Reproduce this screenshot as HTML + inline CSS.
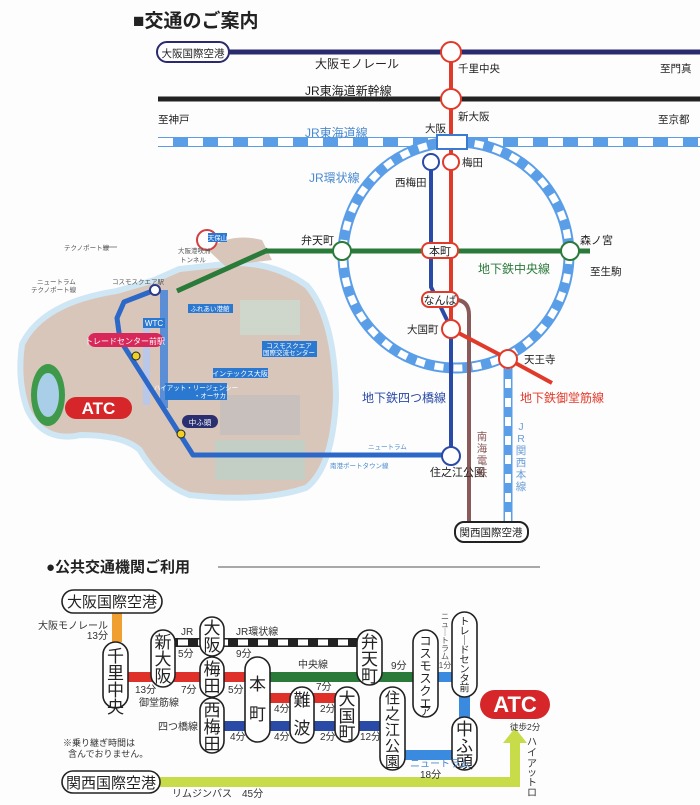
<!DOCTYPE html>
<html><head><meta charset="utf-8"><style>
html,body{margin:0;padding:0;background:#fff;}
svg{display:block;font-family:"Liberation Sans","Noto Sans CJK JP",sans-serif;}
</style></head><body>
<svg width="700" height="805" viewBox="0 0 700 805" xmlns="http://www.w3.org/2000/svg">
<rect width="700" height="805" fill="#fdfdfd"/>
<text x="133" y="27" font-size="19" font-weight="bold" fill="#222">■交通のご案内</text>

<!-- Island -->
<path d="M25,345 Q45,305 117,294 L155,283 L180,272 L235,266 Q275,266 305,288 Q332,320 333,398 Q330,465 305,485 Q260,500 190,492 Q162,482 142,448 Q125,432 80,432 Q45,440 30,408 Q20,380 25,345 Z" fill="#cfe6f4" stroke="#cfe6f4" stroke-width="12" stroke-linejoin="round"/>
<path d="M25,345 Q45,305 117,294 L155,283 L180,272 L235,266 Q275,266 305,288 Q332,320 333,398 Q330,465 305,485 Q260,500 190,492 Q162,482 142,448 Q125,432 80,432 Q45,440 30,408 Q20,380 25,345 Z" fill="#d9c6ba"/>
<path d="M208,250 Q230,232 262,240 L272,260 L225,266 Z" fill="#d9c6ba"/>
<ellipse cx="48" cy="395" rx="17" ry="31" fill="#3e9a4a"/>
<ellipse cx="48" cy="395" rx="11" ry="22" fill="#a9cfe8"/>
<g fill="#c8c0bc">
<rect x="220" y="395" width="80" height="40"/>
<rect x="215" y="440" width="90" height="40" fill="#c3cfc5"/>
<rect x="240" y="300" width="60" height="35" fill="#cfd6cc"/>
</g>
<rect x="160" y="290" width="8" height="118" fill="#5c8ed6"/>
<rect x="143" y="320" width="7" height="85" fill="#b9c7e8"/>
<circle cx="207" cy="240" r="10" fill="none" stroke="#d04040" stroke-width="2"/>
<polyline points="177,291 268,250" fill="none" stroke="#2a7a3a" stroke-width="5"/>
<polyline points="155,290 124,302 117,318 120,340 181,436 193,455 450,455" fill="none" stroke="#2b68c8" stroke-width="5" stroke-linejoin="round"/>
<circle cx="155" cy="290" r="5" fill="#fff" stroke="#2b3a8a" stroke-width="2"/>
<circle cx="136" cy="356" r="4" fill="#f0d020" stroke="#222" stroke-width="1"/>
<circle cx="181" cy="434" r="4" fill="#f0d020" stroke="#222" stroke-width="1"/>
<rect x="65" y="397" width="67" height="22" rx="11" fill="#d7262a"/>
<text x="98.5" y="414" font-size="17" font-weight="bold" fill="#fff" text-anchor="middle">ATC</text>
<rect x="88" y="333" width="75" height="14" rx="7" fill="#d8285a"/>
<text x="125" y="344" font-size="8" fill="#fff" text-anchor="middle">トレードセンター前駅</text>
<rect x="143" y="318" width="22" height="10" fill="#2b78d0"/>
<text x="154" y="326" font-size="8" fill="#fff" text-anchor="middle">WTC</text>
<rect x="188" y="304" width="45" height="9" fill="#2b78d0"/>
<text x="210" y="311" font-size="6.5" fill="#fff" text-anchor="middle">ふれあい港館</text>
<rect x="262" y="341" width="55" height="16" fill="#2b78d0"/>
<text x="289" y="348" font-size="6.5" fill="#fff" text-anchor="middle">コスモスクエア</text>
<text x="289" y="355" font-size="6.5" fill="#fff" text-anchor="middle">国際交流センター</text>
<rect x="213" y="368" width="55" height="10" fill="#2b78d0"/>
<text x="240" y="376" font-size="7" fill="#fff" text-anchor="middle">インテックス大阪</text>
<rect x="165" y="383" width="62" height="17" fill="#2b78d0"/>
<text x="196" y="390" font-size="6.5" fill="#fff" text-anchor="middle">ハイアット・リージェンシー</text>
<text x="210" y="398" font-size="6.5" fill="#fff" text-anchor="middle">・オーサカ</text>
<rect x="182" y="415" width="36" height="13" rx="6.5" fill="#2a2f70"/>
<text x="200" y="425" font-size="7.5" fill="#fff" text-anchor="middle">中ふ頭</text>
<rect x="208" y="233" width="19" height="9" fill="#2b78d0"/>
<text x="217.5" y="240" font-size="6.5" fill="#fff" text-anchor="middle">天保山</text>
<g font-size="6.5" fill="#555">
<text x="64" y="250">テクノポート線</text>
<line x1="104" y1="247" x2="117" y2="247" stroke="#555" stroke-width="0.7"/>
<text x="178" y="253">大阪港咲洲</text>
<text x="180" y="262">トンネル</text>
<text x="37" y="284">ニュートラム</text>
<text x="31" y="292">テクノポート線</text>
<text x="112" y="284">コスモスクエア駅</text>
<text x="368" y="449" fill="#4a8ad0">ニュートラム</text>
<text x="330" y="468" fill="#4a8ad0">南港ポートタウン線</text>
</g>

<!-- Top lines -->
<line x1="228" y1="52" x2="700" y2="52" stroke="#2a2a6e" stroke-width="5"/>
<rect x="157" y="42" width="72" height="20" rx="10" fill="#fff" stroke="#2a2a6e" stroke-width="2"/>
<text x="193" y="57" font-size="10.5" fill="#222" text-anchor="middle">大阪国際空港</text>
<line x1="158" y1="99" x2="700" y2="99" stroke="#222" stroke-width="5"/>
<line x1="158" y1="142" x2="700" y2="142" stroke="#5b9ee8" stroke-width="10"/>
<line x1="158" y1="142" x2="700" y2="142" stroke="#fff" stroke-width="8" stroke-dasharray="15 15"/>
<circle cx="456" cy="255" r="113" fill="none" stroke="#5b9ee8" stroke-width="11"/>
<circle cx="456" cy="255" r="113" fill="none" stroke="#fff" stroke-width="7" stroke-dasharray="9 10"/>
<line x1="508" y1="360" x2="508" y2="522" stroke="#5b9ee8" stroke-width="9"/>
<line x1="508" y1="360" x2="508" y2="522" stroke="#fff" stroke-width="6" stroke-dasharray="9 10"/>
<line x1="266" y1="251" x2="590" y2="251" stroke="#2a7a3a" stroke-width="5"/>
<path d="M458,300 Q469,302 469,315 L469,522" fill="none" stroke="#8a5a5a" stroke-width="4"/>
<polyline points="431,170 431,287 447,320 451,332 451,455" fill="none" stroke="#2a4aa8" stroke-width="4"/>
<polyline points="451,52 451,329 508,359 552,383" fill="none" stroke="#e03a2a" stroke-width="4"/>
<g fill="#fff" stroke-width="2">
<circle cx="451" cy="52" r="10" stroke="#e03a2a"/>
<circle cx="451" cy="99" r="10" stroke="#e03a2a"/>
<circle cx="451" cy="162" r="8" stroke="#e03a2a"/>
<circle cx="431" cy="162" r="8" stroke="#2a4aa8"/>
<circle cx="342" cy="251" r="9" stroke="#2a7a3a"/>
<circle cx="570" cy="251" r="9" stroke="#2a7a3a"/>
<circle cx="451" cy="329" r="9" stroke="#e03a2a"/>
<circle cx="508" cy="359" r="9" stroke="#e03a2a"/>
<circle cx="451" cy="456" r="9" stroke="#2a4aa8"/>
<rect x="437" y="135" width="30" height="14" stroke="#3a7ad0"/>
<rect x="422" y="243" width="36" height="15" rx="7" stroke="#e03a2a"/>
<rect x="422" y="292" width="36" height="15" rx="7" stroke="#e03a2a"/>
<rect x="455" y="522" width="73" height="20" rx="9" stroke="#222"/>
</g>
<g font-size="11" fill="#222">
<text x="440" y="255" text-anchor="middle">本町</text>
<text x="440" y="304" text-anchor="middle">なんば</text>
<text x="491" y="536" text-anchor="middle" font-size="10.5">関西国際空港</text>
<text x="315" y="68" font-size="12">大阪モノレール</text>
<text x="458" y="72" font-size="10.5">千里中央</text>
<text x="660" y="72" font-size="10.5">至門真</text>
<text x="305" y="95" font-size="12">JR東海道新幹線</text>
<text x="458" y="120" font-size="10.5">新大阪</text>
<text x="158" y="123" font-size="10.5">至神戸</text>
<text x="658" y="123" font-size="10.5">至京都</text>
<text x="425" y="132" font-size="10.5">大阪</text>
<text x="305" y="137" font-size="12" fill="#4a8ad0">JR東海道線</text>
<text x="309" y="182" font-size="12" fill="#4a8ad0">JR環状線</text>
<text x="462" y="166" font-size="10.5">梅田</text>
<text x="395" y="186" font-size="10.5">西梅田</text>
<text x="301" y="244" font-size="11">弁天町</text>
<text x="580" y="244" font-size="11">森ノ宮</text>
<text x="590" y="275" font-size="10.5">至生駒</text>
<text x="478" y="273" font-size="12" fill="#2a7a3a">地下鉄中央線</text>
<text x="407" y="333" font-size="10.5">大国町</text>
<text x="524" y="363" font-size="10.5">天王寺</text>
<text x="362" y="402" font-size="12" fill="#2a4aa8">地下鉄四つ橋線</text>
<text x="520" y="402" font-size="12" fill="#e03a2a">地下鉄御堂筋線</text>
<text x="430" y="476" font-size="11">住之江公園</text>
</g>
<g font-size="10.5" fill="#8a5a5a" text-anchor="middle">
<text x="482" y="440">南</text><text x="482" y="452">海</text><text x="482" y="464">電</text><text x="482" y="476">鉄</text>
</g>
<g font-size="10.5" fill="#6a9ed8" text-anchor="middle">
<text x="521" y="430">J</text><text x="521" y="442">R</text><text x="521" y="454">関</text><text x="521" y="466">西</text><text x="521" y="478">本</text><text x="521" y="490">線</text>
</g>

<!-- Bottom section -->
<text x="46" y="572" font-size="15" font-weight="bold" fill="#222">●公共交通機関ご利用</text>
<line x1="218" y1="567" x2="540" y2="567" stroke="#555" stroke-width="1"/>
<rect x="112" y="612" width="10" height="30" fill="#f0a030"/>
<rect x="175" y="638" width="182" height="9" fill="#222"/>
<line x1="175" y1="642.5" x2="357" y2="642.5" stroke="#fff" stroke-width="6" stroke-dasharray="10 10" stroke-dashoffset="-3"/>
<rect x="127" y="672" width="120" height="10" fill="#e0302a"/>
<rect x="268" y="672" width="147" height="10" fill="#2a7a3a"/>
<rect x="436" y="672" width="18" height="10" fill="#3a8ae0"/>
<rect x="268" y="693" width="70" height="10" fill="#e0302a"/>
<rect x="222" y="721" width="160" height="10" fill="#2a4aa8"/>
<rect x="403" y="750" width="52" height="10" fill="#3a8ae0"/>
<rect x="459" y="695" width="11" height="24" fill="#3a8ae0"/>
<path d="M160,777 L510,777 L510,743 L503,743 L515,728 L527,743 L520,743 L520,787 L160,787 Z" fill="#c8dc4a"/>
<g fill="#fff" stroke="#222" stroke-width="1.6">
<rect x="62" y="590" width="100" height="23" rx="11.5"/>
<rect x="62" y="771" width="98" height="22" rx="11"/>
<rect x="103" y="642" width="25" height="66" rx="12.5"/>
<rect x="151" y="630" width="24" height="57" rx="12"/>
<rect x="200" y="617" width="24" height="39" rx="12"/>
<rect x="200" y="657" width="24" height="40" rx="12"/>
<rect x="200" y="698" width="24" height="55" rx="12"/>
<rect x="245" y="657" width="25" height="85" rx="12.5"/>
<rect x="290" y="687" width="24" height="56" rx="12"/>
<rect x="335" y="687" width="24" height="55" rx="12"/>
<rect x="357" y="630" width="25" height="55" rx="12.5"/>
<rect x="380" y="687" width="25" height="83" rx="12.5"/>
<rect x="413" y="630" width="25" height="87" rx="12.5"/>
<rect x="452" y="612" width="25" height="85" rx="12.5"/>
<rect x="452" y="717" width="25" height="53" rx="12.5"/>
</g>
<rect x="480" y="690" width="70" height="29" rx="14.5" fill="#d7262a"/>
<text x="515" y="712" font-size="22" font-weight="bold" fill="#fff" text-anchor="middle">ATC</text>
<g font-size="15" fill="#222" text-anchor="middle">
<text x="112" y="607">大阪国際空港</text>
<text x="111" y="788">関西国際空港</text>
</g>
<g font-size="17" fill="#222" text-anchor="middle">
<text x="115.5" y="662">千</text><text x="115.5" y="679">里</text><text x="115.5" y="696">中</text><text x="115.5" y="713">央</text>
<text x="163" y="648">新</text><text x="163" y="665">大</text><text x="163" y="682">阪</text>
<text x="212" y="634">大</text><text x="212" y="651">阪</text>
<text x="212" y="675">梅</text><text x="212" y="692">田</text>
<text x="212" y="716">西</text><text x="212" y="733">梅</text><text x="212" y="750">田</text>
<text x="257.5" y="690">本</text><text x="257.5" y="720">町</text>
<text x="302" y="706">難</text><text x="302" y="734">波</text>
<text x="347" y="705">大</text><text x="347" y="722">国</text><text x="347" y="739">町</text>
<text x="369.5" y="648">弁</text><text x="369.5" y="665">天</text><text x="369.5" y="682">町</text>
<text x="464.5" y="735">中</text><text x="464.5" y="752">ふ</text><text x="464.5" y="768">頭</text>
</g>
<g font-size="15" fill="#222" text-anchor="middle">
<text x="392.5" y="703">住</text><text x="392.5" y="719">之</text><text x="392.5" y="735">江</text><text x="392.5" y="751">公</text><text x="392.5" y="767">園</text>
</g>
<g font-size="12" fill="#222" text-anchor="middle">
<text x="425.5" y="645">コ</text><text x="425.5" y="657.5">ス</text><text x="425.5" y="670">モ</text><text x="425.5" y="682.5">ス</text><text x="425.5" y="695">ク</text><text x="425.5" y="707.5">エ</text><text x="425.5" y="714" font-size="0.1"> </text>
</g>
<g font-size="11" fill="#222" text-anchor="middle">
<text x="425.5" y="715">ア</text>
</g>
<g font-size="10" fill="#222" text-anchor="middle">
<text x="464.5" y="625">ト</text><text x="464.5" y="634.5">レ</text><text x="464.5" y="644">｜</text><text x="464.5" y="653.5">ド</text><text x="464.5" y="663">セ</text><text x="464.5" y="672.5">ン</text><text x="464.5" y="682">タ</text><text x="464.5" y="691.5">前</text>
</g>
<g font-size="10" fill="#333">
<text x="108" y="629" text-anchor="end">大阪モノレール</text>
<text x="108" y="639" text-anchor="end">13分</text>
<text x="181" y="635">JR</text>
<text x="178" y="657">5分</text>
<text x="236" y="635">JR環状線</text>
<text x="236" y="657">9分</text>
<text x="135" y="693">13分</text>
<text x="139" y="706">御堂筋線</text>
<text x="181" y="693">7分</text>
<text x="228" y="693">5分</text>
<text x="298" y="668">中央線</text>
<text x="316" y="690">7分</text>
<text x="274" y="712">4分</text>
<text x="320" y="712">2分</text>
<text x="198" y="730" text-anchor="end">四つ橋線</text>
<text x="230" y="740">4分</text>
<text x="274" y="740">4分</text>
<text x="320" y="740">2分</text>
<text x="360" y="740">12分</text>
<text x="391" y="669">9分</text>
<text x="410" y="767" fill="#4a8ad0">ニュートラム</text>
<text x="420" y="778">18分</text>
<text x="510" y="730" font-size="8.5">徒歩2分</text>
<text x="63" y="746" font-size="9">※乗り継ぎ時間は</text>
<text x="68" y="757" font-size="9">含んでおりません。</text>
<text x="172" y="797">リムジンバス　45分</text>
</g>
<g font-size="8" fill="#555" text-anchor="middle">
<text x="445" y="619">ニ</text><text x="445" y="627">ュ</text><text x="445" y="635">｜</text><text x="445" y="643">ト</text><text x="445" y="651">ラ</text><text x="445" y="659">ム</text><text x="445" y="668">1分</text>
</g>
<g font-size="10" fill="#333" text-anchor="middle">
<text x="532" y="745">ハ</text><text x="532" y="756">イ</text><text x="532" y="767">ア</text><text x="532" y="776">ッ</text><text x="532" y="786">ト</text><text x="532" y="796">ロ</text>
</g>
</svg>
</body></html>
